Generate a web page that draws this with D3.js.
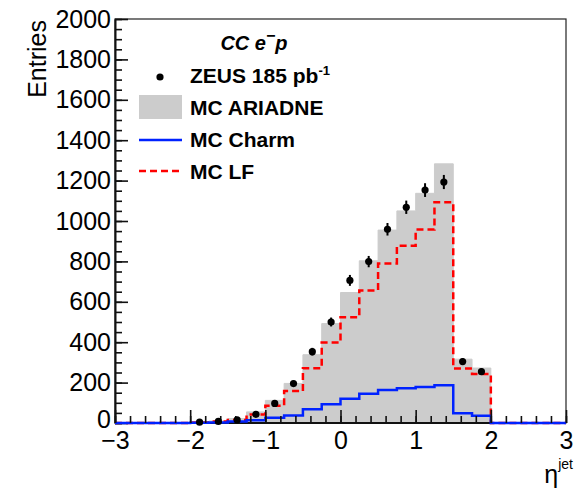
<!DOCTYPE html>
<html>
<head>
<meta charset="utf-8">
<script src="https://cdn.jsdelivr.net/npm/d3@7"></script>
<style>
  html, body { margin: 0; padding: 0; background: #fff; }
  svg { display: block; font-family: "Liberation Sans", Arial, Helvetica, sans-serif; }
</style>
</head>
<body>
<svg id="chart" width="574" height="495"></svg>
<script>
// Jet pseudorapidity distribution, CC e-p, 0.25-wide bins from -3 to 3
const binEdges = [-3, -2.75, -2.5, -2.25, -2, -1.75, -1.5, -1.25, -1, -0.75, -0.5, -0.25,
                  0, 0.25, 0.5, 0.75, 1, 1.25, 1.5, 1.75, 2, 2.25, 2.5, 2.75, 3];

// MC ARIADNE total prediction per bin
const mcAriadne = [0, 0, 0, 0, 3, 10, 22, 55, 112, 196, 338, 492,
                   646, 803, 955, 1050, 1137, 1283, 316, 272, 0, 0, 0, 0];
// light-flavour component
const mcLF = [0, 0, 0, 0, 2, 7, 15, 42, 86, 158, 271, 398,
              524, 656, 790, 878, 958, 1093, 270, 243, 0, 0, 0, 0];
// charm component
const mcCharm = [0, 0, 0, 0, 1, 3, 7, 13, 26, 37, 68, 93,
                 120, 145, 163, 172, 178, 187, 48, 36, 0, 0, 0, 0];

// ZEUS data points (bin centres, entries, statistical errors)
const dataEta = [-1.875, -1.625, -1.375, -1.125, -0.875, -0.625, -0.375, -0.125,
                 0.125, 0.375, 0.625, 0.875, 1.125, 1.375, 1.625, 1.875];
const dataEntries = [4, 8, 15, 43, 97, 195, 353, 500, 706, 799, 959, 1068, 1153, 1193, 304, 254];
const dataErrors = [2, 3, 4, 7, 10, 14, 19, 22, 27, 28, 31, 33, 34, 35, 17, 16];

// axis ticks
const xTicks = [-3, -2, -1, 0, 1, 2, 3];
const xTickLabels = ["\u22123", "\u22122", "\u22121", "0", "1", "2", "3"];
const yTicks = [0, 200, 400, 600, 800, 1000, 1200, 1400, 1600, 1800, 2000];
const yTickLabels = ["0", "200", "400", "600", "800", "1000", "1200", "1400", "1600", "1800", "2000"];

const svg = d3.select("#chart");
const W = 574, H = 495;
const margin = { left: 115, top: 19, right: 8, bottom: 72 };

const x = d3.scaleLinear().domain([-3, 3]).range([margin.left, W - margin.right]);
const y = d3.scaleLinear().domain([0, 2000]).range([H - margin.bottom, margin.top]);

// step vertices: each bin's value held across the bin
function stepPoints(values) {
  const pts = values.map((v, i) => [binEdges[i], v]);
  pts.push([binEdges[values.length], values[values.length - 1]]);
  return pts;
}

const plot = svg.append("g");

// grey filled MC ARIADNE histogram
plot.append("path")
  .datum(stepPoints(mcAriadne))
  .attr("fill", "#cccccc")
  .attr("stroke", "#cccccc")
  .attr("stroke-width", 1)
  .attr("d", d3.area().curve(d3.curveStepAfter)
    .x(d => x(d[0])).y0(y(0)).y1(d => y(d[1])));

const stepLine = d3.line().curve(d3.curveStepAfter).x(d => x(d[0])).y(d => y(d[1]));

// light flavour, red dashed
plot.append("path")
  .datum(stepPoints(mcLF))
  .attr("fill", "none")
  .attr("stroke", "#ff0000")
  .attr("stroke-width", 2.5)
  .attr("stroke-dasharray", "7,4")
  .attr("d", stepLine);

// frame (top and right edges thin)
svg.append("rect")
  .attr("x", x(-3)).attr("y", y(2000))
  .attr("width", x(3) - x(-3)).attr("height", y(0) - y(2000))
  .attr("fill", "none").attr("stroke", "#222").attr("stroke-width", 1.2);

// axes
const fontSize = 25;
const yAxis = svg.append("g").attr("transform", `translate(${x(-3)},0)`)
  .call(d3.axisLeft(y).tickValues(yTicks).tickSize(-13).tickSizeOuter(0).tickPadding(4)
    .tickFormat((d, i) => yTickLabels[i]));
const yMinor = svg.append("g").attr("transform", `translate(${x(-3)},0)`)
  .call(d3.axisLeft(y).tickValues(d3.range(0, 2000.1, 50)).tickSize(-7).tickSizeOuter(0).tickFormat(""));
yMinor.select(".domain").remove();

// bottom axis baseline, then the charm outline on top of it
svg.append("line")
  .attr("x1", x(-3)).attr("x2", x(3)).attr("y1", y(0)).attr("y2", y(0))
  .attr("stroke", "#111").attr("stroke-width", 2);
svg.append("path")
  .datum(stepPoints(mcCharm))
  .attr("fill", "none").attr("stroke", "#0022ff").attr("stroke-width", 2.5)
  .attr("d", stepLine);

const xMinor = svg.append("g").attr("transform", `translate(0,${y(0)})`)
  .call(d3.axisBottom(x).tickValues(d3.range(-3, 3.001, 0.2)).tickSize(-7).tickSizeOuter(0).tickFormat(""));
const xAxis = svg.append("g").attr("transform", `translate(0,${y(0)})`)
  .call(d3.axisBottom(x).tickValues(xTicks).tickSize(-13).tickSizeOuter(0).tickPadding(8)
    .tickFormat((d, i) => xTickLabels[i]));
xMinor.select(".domain").remove();
xAxis.select(".domain").remove();

[xAxis, xMinor, yAxis, yMinor].forEach(g => {
  g.selectAll(".tick line").attr("stroke", "#111").attr("stroke-width", 1.6);
  g.selectAll("text").attr("fill", "#000").style("font-size", fontSize + "px")
    .style("font-family", '"Liberation Sans", Arial, sans-serif');
});
yAxis.select(".domain").attr("stroke", "#111").attr("stroke-width", 2);
// lift the corner "0" a touch so it clears the first x label
yAxis.selectAll(".tick text").filter(d => d === 0).attr("dy", "0.16em");

// data points with error bars
const pts = svg.append("g");
dataEta.forEach((eta, i) => {
  pts.append("line")
    .attr("x1", x(eta)).attr("x2", x(eta))
    .attr("y1", y(dataEntries[i] - dataErrors[i])).attr("y2", y(dataEntries[i] + dataErrors[i]))
    .attr("stroke", "#000").attr("stroke-width", 2);
  pts.append("circle")
    .attr("cx", x(eta)).attr("cy", y(dataEntries[i])).attr("r", 3.6)
    .attr("fill", "#000");
});

// axis titles
svg.append("text")
  .attr("transform", "translate(46,20) rotate(-90)")
  .attr("text-anchor", "end")
  .style("font-size", "25px")
  .text("Entries");

const xt = svg.append("text")
  .attr("x", 573).attr("y", 483)
  .attr("text-anchor", "end")
  .style("font-size", "25px");
xt.append("tspan").text("\u03b7");
xt.append("tspan").attr("dy", -14).style("font-size", "14px").text("jet");

// legend
const leg = svg.append("g").style("font-weight", "bold");
const title = leg.append("text")
  .attr("x", 254).attr("y", 50).attr("text-anchor", "middle")
  .style("font-size", "20px").style("font-style", "italic");
title.append("tspan").text("CC e");
title.append("tspan").attr("dy", -9).style("font-size", "16px").text("\u2212");
title.append("tspan").attr("dy", 9).text("p");

leg.append("circle").attr("cx", 160).attr("cy", 77).attr("r", 3.6).attr("fill", "#000");
const zt = leg.append("text").attr("x", 190).attr("y", 83).style("font-size", "21px");
zt.append("tspan").text("ZEUS 185 pb");
zt.append("tspan").attr("dy", -8).style("font-size", "13px").text("-1");

leg.append("rect").attr("x", 139).attr("y", 95).attr("width", 43).attr("height", 24).attr("fill", "#cccccc");
leg.append("text").attr("x", 190).attr("y", 115).style("font-size", "21px").text("MC ARIADNE");

leg.append("line").attr("x1", 139).attr("x2", 182).attr("y1", 140).attr("y2", 140)
  .attr("stroke", "#0022ff").attr("stroke-width", 2.5);
leg.append("text").attr("x", 190).attr("y", 147).style("font-size", "21px").text("MC Charm");

leg.append("line").attr("x1", 139).attr("x2", 182).attr("y1", 171).attr("y2", 171)
  .attr("stroke", "#ff0000").attr("stroke-width", 2.5).attr("stroke-dasharray", "7,4");
leg.append("text").attr("x", 190).attr("y", 179).style("font-size", "21px").text("MC LF");
</script>
</body>
</html>
